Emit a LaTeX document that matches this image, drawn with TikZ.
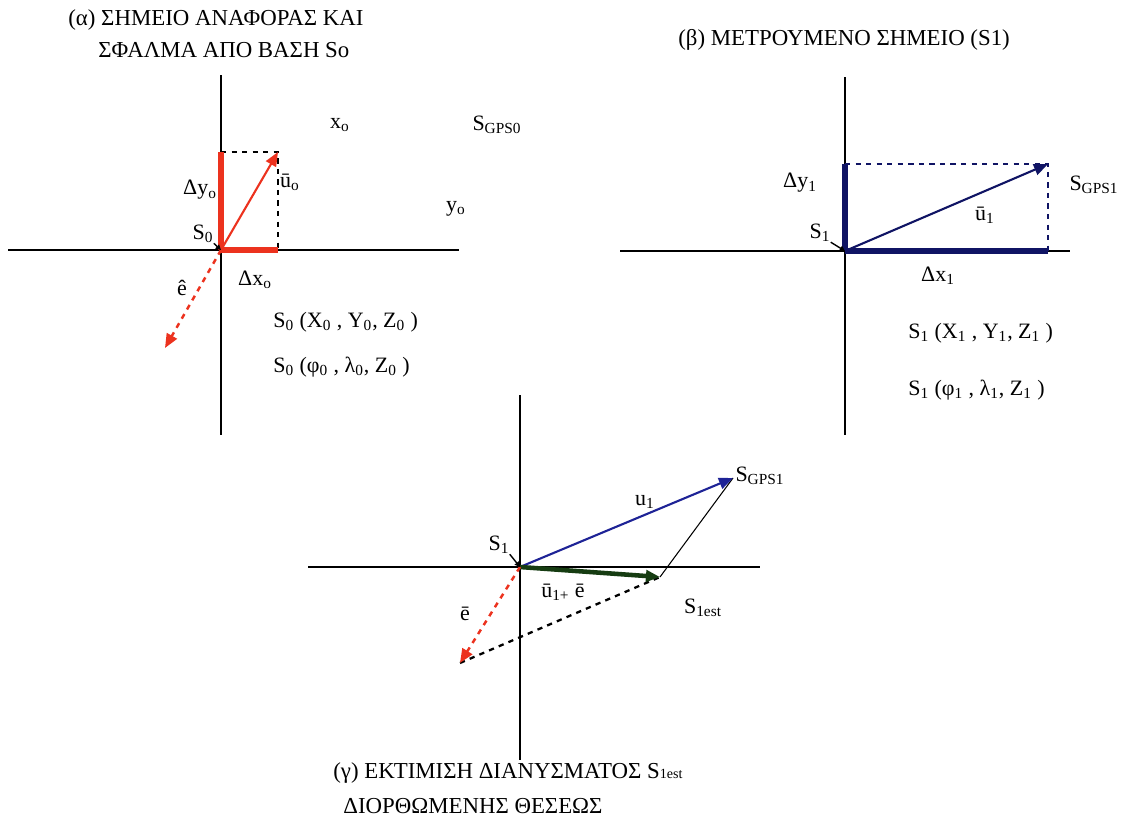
\documentclass[tikz,border=0pt]{standalone}
\usepackage{fontspec}
\setmainfont{Liberation Serif}
\usetikzlibrary{arrows.meta}

\definecolor{errred}{RGB}{236,50,30}
\definecolor{measnavy}{RGB}{16,20,100}
\definecolor{vecblue}{RGB}{30,35,150}
\definecolor{estgreen}{RGB}{22,60,18}

\newcommand{\lo}[1]{\textsubscript{#1}}

\begin{document}
\begin{tikzpicture}[
  x=0.02cm, y=-0.02cm,
  axis/.style={black, line width=1.1pt},
  comp/.style={line width=2.9pt},
  guide/.style={dashed, line width=1pt},
  vec/.style={line width=1.2pt, -{Triangle[length=8pt,width=6.5pt]}},
  ptr/.style={black, line width=0.8pt, -{Triangle[length=3pt,width=3pt]}},
  lbl/.style={font=\fontsize{12.5}{14}\selectfont, inner sep=0pt},
  ttl/.style={font=\fontsize{13}{15}\selectfont, anchor=west, inner sep=0pt}
]
\useasboundingbox (0,0) rectangle (1123,818);

% --------------------------------------------------------------------------
% (a) reference point and error from base So
% --------------------------------------------------------------------------
\node[ttl] (ttlA1) at (68,20) {(α) ΣΗΜΕΙΟ ΑΝΑΦΟΡΑΣ ΚΑΙ};
\node[ttl] (ttlA2) at (98,50) {ΣΦΑΛΜΑ ΑΠΟ ΒΑΣΗ So};

\coordinate (oA) at (221,250);
\coordinate (uA) at (278,152);
\coordinate (dyA) at (221,152);
\coordinate (dxA) at (278,250);
\coordinate (eA) at (165,348);
\coordinate (axAt) at (221,75);
\coordinate (axAb) at (221,435);
\coordinate (axAl) at (8,250);
\coordinate (axAr) at (459,250);

\draw[axis] (axAt) -- (axAb);
\draw[axis] (axAl) -- (axAr);
\draw[guide] (dyA) -- (uA) -- (dxA);
\draw[comp, errred] (oA) -- (dyA);
\draw[comp, errred] (oA) -- (dxA);
\draw[vec, errred] (oA) -- (uA);
\draw[vec, errred, dashed, line width=1.4pt] (oA) -- (eA);

\node[lbl] (xA) at (340,125) {x\lo{o}};
\node[lbl] (gpsA) at (497,125) {S\lo{GPS0}};
\node[lbl] (uAl) at (290,182) {ū\lo{o}};
\node[lbl] (dyAl) at (200,190) {Δy\lo{o}};
\node[lbl] (yA) at (456,209) {y\lo{o}};
\node[lbl] (sA) at (203,234) {S\lo{0}};
\draw[ptr] (sA.south east) -- (oA);
\node[lbl] (dxAl) at (255,280) {Δx\lo{o}};
\node[lbl] (eAl) at (182,288) {ê};
\node[lbl, anchor=west] (xyzA) at (273,322) {S\lo{0} (X\lo{0} , Y\lo{0}, Z\lo{0} )};
\node[lbl, anchor=west] (flzA) at (273,367) {S\lo{0} (φ\lo{0} , λ\lo{0}, Z\lo{0} )};

% --------------------------------------------------------------------------
% (b) measured point S1
% --------------------------------------------------------------------------
\node[ttl] (ttlB) at (678,40) {(β) ΜΕΤΡΟΥΜΕΝΟ ΣΗΜΕΙΟ (S1)};

\coordinate (oB) at (845,251);
\coordinate (uB) at (1048,164);
\coordinate (dyB) at (845,164);
\coordinate (dxB) at (1048,251);
\coordinate (axBt) at (845,77);
\coordinate (axBb) at (845,435);
\coordinate (axBl) at (620,251);
\coordinate (axBr) at (1070,251);

\draw[axis] (axBt) -- (axBb);
\draw[axis] (axBl) -- (axBr);
\draw[guide, measnavy] (dyB) -- (uB) -- (dxB);
\draw[comp, measnavy] (oB) -- (dyB);
\draw[comp, measnavy] (oB) -- (dxB);
\draw[vec, measnavy] (oB) -- (uB);

\node[lbl] (dyBl) at (800,183) {Δy\lo{1}};
\node[lbl] (gpsB) at (1094,185) {S\lo{GPS1}};
\node[lbl] (uBl) at (985,215) {ū\lo{1}};
\node[lbl] (sB) at (820,233) {S\lo{1}};
\draw[ptr] (sB.south east) -- (oB);
\node[lbl] (dxBl) at (938,276) {Δx\lo{1}};
\node[lbl, anchor=west] (xyzB) at (908,333) {S\lo{1} (X\lo{1} , Y\lo{1}, Z\lo{1} )};
\node[lbl, anchor=west] (flzB) at (908,390) {S\lo{1} (φ\lo{1} , λ\lo{1}, Z\lo{1} )};

% --------------------------------------------------------------------------
% (c) corrected position estimate S1est
% --------------------------------------------------------------------------
\coordinate (oC) at (520,567);
\coordinate (gpsC) at (733,478);
\coordinate (estC) at (660,577);
\coordinate (eC) at (460,663);
\coordinate (axCt) at (520,395);
\coordinate (axCb) at (520,760);
\coordinate (axCl) at (308,567);
\coordinate (axCr) at (760,567);

\draw[axis] (axCt) -- (axCb);
\draw[axis] (axCl) -- (axCr);
\draw[black, line width=0.6pt] (gpsC) -- (estC);
\draw[guide, line width=1.3pt] (eC) -- (estC);
\draw[vec, vecblue] (oC) -- (gpsC);
\draw[vec, estgreen, line width=2.6pt] (oC) -- (estC);
\draw[vec, errred, dashed, line width=1.4pt] (oC) -- (eC);

\node[lbl] (gpsCl) at (760,476) {S\lo{GPS1}};
\node[lbl] (uCl) at (645,502) {u\lo{1}};
\node[lbl] (sC) at (499,545) {S\lo{1}};
\draw[ptr] (sC.south east) -- (oC);
\node[lbl] (sumC) at (563,592) {ū\lo{1+} ē};
\node[lbl] (estCl) at (703,608) {S\lo{1est}};
\node[lbl] (eCl) at (465,614) {ē};

\node[ttl] (ttlC1) at (333,773) {(γ) ΕΚΤΙΜΙΣΗ ΔΙΑΝΥΣΜΑΤΟΣ S{\footnotesize 1est}};
\node[ttl] (ttlC2) at (343,806) {ΔΙΟΡΘΩΜΕΝΗΣ ΘΕΣΕΩΣ};
\end{tikzpicture}
\end{document}
